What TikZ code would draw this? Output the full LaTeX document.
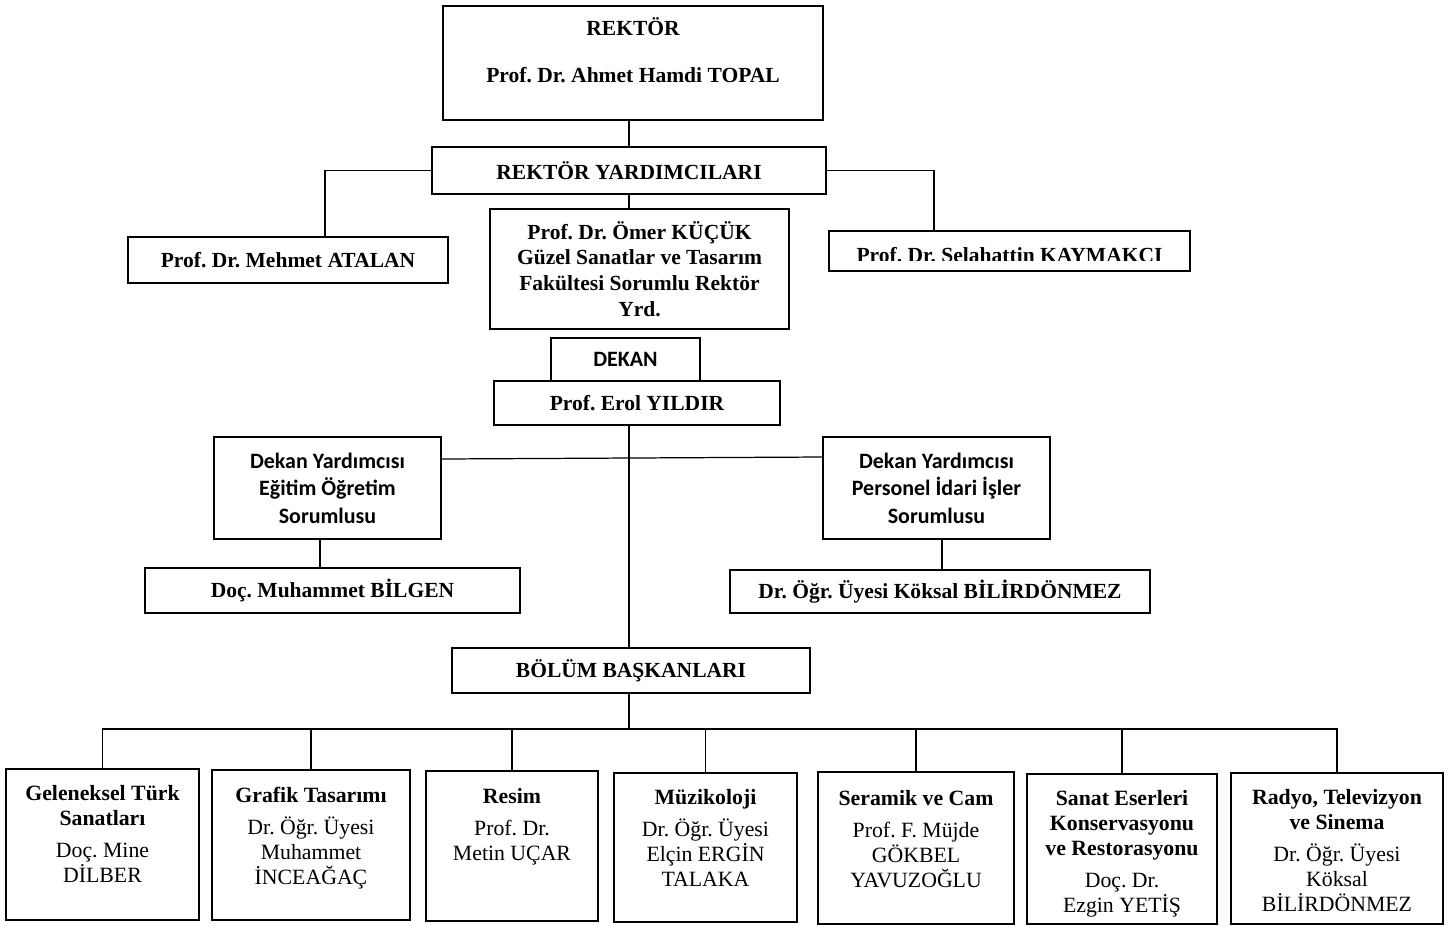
\documentclass[tikz,border=0pt]{standalone}
\usepackage{fontspec}
\setmainfont{Liberation Serif}
\newfontfamily\calibrifont{Carlito}
\frenchspacing

\begin{document}
\begin{tikzpicture}[x=0.02cm, y=-0.02cm,
		box_style/.style={draw=black, line width=0.7pt, inner sep=0pt},
		edge_style/.style={draw=black, line width=0.7pt},
		tnr_bold/.style={font=\fontsize{12.25}{14.7}\selectfont\bfseries, align=center, inner sep=0pt},
		tnr_style/.style={font=\fontsize{12.4}{14.2}\selectfont, align=center, inner sep=0pt},
		cal_bold/.style={font=\calibrifont\fontsize{12.5}{15.6}\selectfont\bfseries, align=center, inner sep=0pt}]

		\useasboundingbox (0,0) rectangle (1456,926);

		\node[box_style, minimum width=7.6cm, minimum height=2.28cm] (rektor) at (633,63) {};
		\node[tnr_bold, anchor=base] (rektor1) at (633,36) {REKTÖR};
		\node[tnr_bold, anchor=base] (rektor2) at (633,83) {Prof. Dr. Ahmet Hamdi TOPAL};
		\node[box_style, tnr_bold, minimum width=7.88cm, minimum height=0.94cm] (ry) at (629,170.5) {REKTÖR YARDIMCILARI};
		\node[box_style, tnr_bold, minimum width=6.4cm, minimum height=0.92cm] (atalan) at (288,260) {Prof. Dr. Mehmet ATALAN};
		\node[box_style, minimum width=7.22cm, minimum height=0.8cm] (kaymakci) at (1009.5,251) {};
		\begin{scope}
			\clip (kaymakci.north west) rectangle ([yshift=0.22cm]kaymakci.south east);
			\node[tnr_bold, anchor=base] (kaymakcitxt) at (1009.5,262) {Prof. Dr. Selahattin KAYMAKCI};
		\end{scope}
		\node[box_style, tnr_bold, minimum width=5.98cm, minimum height=2.4cm] (omer) at (639.5,269) {Prof. Dr. Ömer KÜÇÜK\\Güzel Sanatlar ve Tasarım\\Fakültesi Sorumlu Rektör\\Yrd.};
		\node[box_style, cal_bold, minimum width=2.98cm, minimum height=0.86cm] (dekan) at (625.5,359.5) {DEKAN};
		\node[box_style, tnr_bold, minimum width=5.72cm, minimum height=0.88cm] (erol) at (637,403) {Prof. Erol YILDIR};
		\node[box_style, cal_bold, minimum width=4.54cm, minimum height=2.04cm] (dyegitim) at (327.5,488) {Dekan Yardımcısı\\Eğitim Öğretim\\Sorumlusu};
		\node[box_style, cal_bold, minimum width=4.54cm, minimum height=2.04cm] (dypersonel) at (936.5,488) {Dekan Yardımcısı\\Personel İdari İşler\\Sorumlusu};
		\node[box_style, tnr_bold, minimum width=7.5cm, minimum height=0.9cm] (bilgen) at (332.5,590.5) {Doç. Muhammet BİLGEN};
		\node[box_style, tnr_bold, minimum width=8.4cm, minimum height=0.86cm] (koksal) at (940,591.5) {Dr. Öğr. Üyesi Köksal BİLİRDÖNMEZ};
		\node[box_style, tnr_bold, minimum width=7.16cm, minimum height=0.9cm] (bolum) at (631,670.5) {BÖLÜM BAŞKANLARI};

		\node[box_style, minimum width=3.86cm, minimum height=3.02cm] (gts) at (102.5,844.5) {};
		\node[box_style, minimum width=3.96cm, minimum height=3.0cm] (grafik) at (311,845) {};
		\node[box_style, minimum width=3.44cm, minimum height=3.0cm] (resim) at (512,846) {};
		\node[box_style, minimum width=3.66cm, minimum height=2.98cm] (muzik) at (705.5,847.5) {};
		\node[box_style, minimum width=3.92cm, minimum height=3.04cm] (seramik) at (916,848) {};
		\node[box_style, minimum width=3.8cm, minimum height=3.0cm] (sanat) at (1122,849) {};
		\node[box_style, minimum width=4.24cm, minimum height=3.02cm] (radyo) at (1337,848.5) {};

		\node[tnr_style, anchor=north] (gtstxt) at (102.5,785) {\textbf{Geleneksel Türk}\\\textbf{Sanatları}\\[4pt]Doç. Mine\\DİLBER};
		\node[tnr_style, anchor=north] (grafiktxt) at (311,787) {\textbf{Grafik Tasarımı}\\[4pt]Dr. Öğr. Üyesi\\Muhammet\\İNCEAĞAÇ};
		\node[tnr_style, anchor=north] (resimtxt) at (512,788) {\textbf{Resim}\\[4pt]Prof. Dr.\\Metin UÇAR};
		\node[tnr_style, anchor=north] (muziktxt) at (705.5,789) {\textbf{Müzikoloji}\\[4pt]Dr. Öğr. Üyesi\\Elçin ERGİN\\TALAKA};
		\node[tnr_style, anchor=north] (seramiktxt) at (916,790) {\textbf{Seramik ve Cam}\\[4pt]Prof. F. Müjde\\GÖKBEL\\YAVUZOĞLU};
		\node[tnr_style, anchor=north] (sanattxt) at (1122,790) {\textbf{Sanat Eserleri}\\\textbf{Konservasyonu}\\\textbf{ve Restorasyonu}\\[4pt]Doç. Dr.\\Ezgin YETİŞ};
		\node[tnr_style, anchor=north] (radyotxt) at (1337,789) {\textbf{Radyo, Televizyon}\\\textbf{ve Sinema}\\[4pt]Dr. Öğr. Üyesi\\Köksal\\BİLİRDÖNMEZ};

		\draw[edge_style] (ry.north) -- (ry.north |- rektor.south);
		\draw[edge_style] (ry.south) -- (ry.south |- omer.north);
		\draw[edge_style] (ry.west) -| ([xshift=0.74cm]atalan.north);
		\draw[edge_style] (ry.east) -| ([xshift=-1.51cm]kaymakci.north);
		\draw[edge_style] ([yshift=0.58cm]dyegitim.east) -- ([yshift=0.62cm]dypersonel.west);
		\draw[edge_style] (ry.south |- erol.south) -- (ry.south |- bolum.north);
		\draw[edge_style] ([xshift=-0.15cm]dyegitim.south) -- ([xshift=-0.15cm]dyegitim.south |- bilgen.north);
		\draw[edge_style] ([xshift=0.11cm]dypersonel.south) -- ([xshift=0.11cm]dypersonel.south |- koksal.north);
		\coordinate (bus) at (629,729);
		\draw[edge_style] (ry.south |- bolum.south) -- (bus);
		\foreach \dept in {gts,grafik,resim,muzik,seramik,sanat,radyo}
			\draw[edge_style] (\dept.north) |- (bus);

\end{tikzpicture}
\end{document}
